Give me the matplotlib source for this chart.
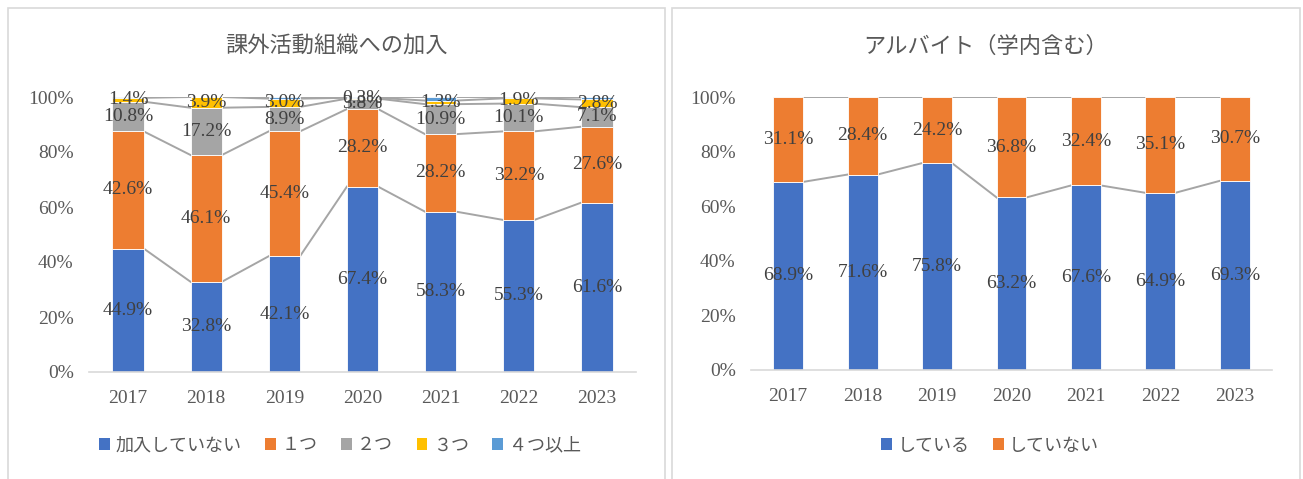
import matplotlib
matplotlib.use("Agg")
import matplotlib.pyplot as plt
from matplotlib.patches import Rectangle, Patch
import numpy as np

plt.rcParams['font.family'] = ['Liberation Serif', 'Noto Sans CJK JP', 'DejaVu Sans']

years = ['2017', '2018', '2019', '2020', '2021', '2022', '2023']

# Left chart: 課外活動組織への加入 (%)
club_names = ['加入していない', '１つ', '２つ', '３つ', '４つ以上']
club_none = [44.9, 32.8, 42.1, 67.4, 58.3, 55.3, 61.6]
club_one = [42.6, 46.1, 45.4, 28.2, 28.2, 32.2, 27.6]
club_two = [10.8, 17.2, 8.9, 3.8, 10.9, 10.1, 7.1]
club_three = [1.4, 3.9, 3.0, 0.3, 1.3, 1.9, 2.8]
club_four = [0.3, 0.0, 0.6, 0.3, 1.3, 0.5, 0.9]
club_show_label = [True, True, True, True, False]

# Right chart: アルバイト（学内含む） (%)
job_names = ['している', 'していない']
job_yes = [68.9, 71.6, 75.8, 63.2, 67.6, 64.9, 69.3]
job_no = [31.1, 28.4, 24.2, 36.8, 32.4, 35.1, 30.7]

colors5 = ['#4472C4', '#ED7D31', '#A5A5A5', '#FFC000', '#5B9BD5']
txt = '#595959'
lab = '#404040'
FS = 14

fig = plt.figure(figsize=(13.03, 4.79), dpi=100)

# panel borders
for (x0, x1) in [(8, 665), (672, 1300)]:
    fig.patches.append(Rectangle((x0 / 1303, -0.01), (x1 - x0) / 1303, 1 - 8 / 479 + 0.01,
                                 transform=fig.transFigure, fill=False,
                                 edgecolor='#D9D9D9', linewidth=1.2))


def stacked(ax, series, names, cols, show_label, width):
    x = np.arange(len(years))
    data = np.array(series, dtype=float)
    bottoms = np.zeros(len(years))
    levels = [bottoms.copy()]
    for s, name, c, sl in zip(data, names, cols, show_label):
        ax.bar(x, s / 100, width, bottom=bottoms / 100, color=c, label=name,
               edgecolor='white', linewidth=0.6, zorder=2)
        if sl:
            for i in range(len(years)):
                ax.text(x[i], (bottoms[i] + s[i] / 2) / 100, f'{s[i]:.1f}%',
                        ha='center', va='center', fontsize=FS, color=lab, zorder=4)
        bottoms = bottoms + s
        levels.append(bottoms.copy())
    # series lines
    for lv in levels[1:]:
        for i in range(len(years) - 1):
            ax.plot([x[i] + width / 2, x[i + 1] - width / 2], [lv[i] / 100, lv[i + 1] / 100],
                    color='#A5A5A5', linewidth=1.4, zorder=1)
    ax.set_xlim(-0.5, len(years) - 0.5)
    ax.set_ylim(0, 1)
    ax.set_yticks(np.linspace(0, 1, 6))
    ax.set_yticklabels([f'{int(v)}%' for v in np.linspace(0, 100, 6)])
    ax.set_xticks(x)
    ax.set_xticklabels(years)
    for sp in ['top', 'right', 'left']:
        ax.spines[sp].set_visible(False)
    ax.spines['bottom'].set_color('#D9D9D9')
    ax.spines['bottom'].set_linewidth(1.2)
    ax.tick_params(axis='both', length=0, labelsize=FS, colors=txt)
    ax.tick_params(axis='x', pad=13)
    ax.tick_params(axis='y', pad=11)


ax1 = fig.add_axes([89 / 1303, 1 - 372 / 479, 547 / 1303, 275 / 479])
stacked(ax1, [club_none, club_one, club_two, club_three, club_four], club_names,
        colors5, club_show_label, 0.4)
fig.text(336 / 1303, 1 - 47 / 479, '課外活動組織への加入', fontsize=16, color=txt,
         ha='center', va='center')

ax2 = fig.add_axes([751 / 1303, 1 - 370 / 479, 521 / 1303, 273 / 479])
stacked(ax2, [job_yes, job_no], job_names, colors5[:2], [True, True], 0.4)
fig.text(986 / 1303, 1 - 47 / 479, 'アルバイト（学内含む）', fontsize=16, color=txt,
         ha='center', va='center')

h1 = [Patch(facecolor=c, label=n) for c, n in zip(colors5, club_names)]
fig.legend(handles=h1, loc='center', bbox_to_anchor=(340 / 1303, 1 - 446 / 479), ncol=5,
           frameon=False, handlelength=0.6, handleheight=0.6, handletextpad=0.3,
           columnspacing=1.3, fontsize=13, labelcolor=txt)
h2 = [Patch(facecolor=c, label=n) for c, n in zip(colors5[:2], job_names)]
fig.legend(handles=h2, loc='center', bbox_to_anchor=(990 / 1303, 1 - 446 / 479), ncol=2,
           frameon=False, handlelength=0.6, handleheight=0.6, handletextpad=0.3,
           columnspacing=1.3, fontsize=13, labelcolor=txt)

fig.savefig('out.png', dpi=100)
